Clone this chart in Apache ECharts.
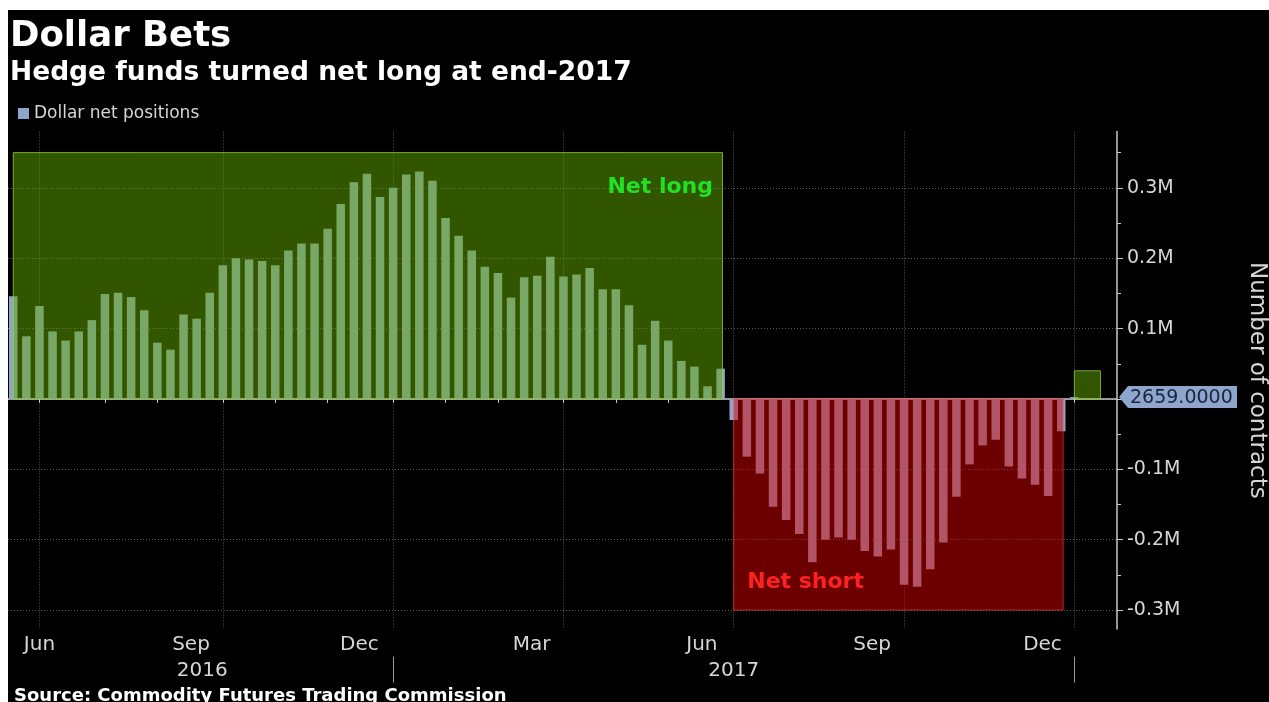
<!DOCTYPE html>
<html>
<head>
<meta charset="utf-8">
<title>Dollar Bets</title>
<script src="https://cdn.jsdelivr.net/npm/echarts@6/dist/echarts.min.js"></script>
<style>
  html, body { margin: 0; padding: 0; background: #ffffff; }
  #chart { position: absolute; left: 8px; top: 10px; width: 1261px; height: 692px; background: #000; }
</style>
</head>
<body>
<div id="chart"></div>
<script>
// Weekly CFTC dollar net positions (contracts), first report 2016-06-14
const firstReport = '2016-06-14';
const netPositions = [
  146000, 89000, 132000, 96000, 83000, 96000, 112000, 149000, 151000, 145000,
  126000, 80000, 70000, 120000, 114000, 151000, 190000, 200000, 198000, 196000,
  190000, 211000, 221000, 221000, 242000, 277000, 308000, 320000, 287000, 300000,
  319000, 323000, 310000, 257000, 232000, 211000, 188000, 179000, 144000, 173000,
  175000, 202000, 174000, 177000, 186000, 156000, 156000, 133000, 77000, 111000,
  83000, 54000, 46000, 18000, 43000, -30000, -82000, -106000, -153000, -172000,
  -192000, -232000, -200000, -197000, -200000, -216000, -224000, -214000, -264000, -267000,
  -242000, -204000, -139000, -93000, -66000, -58000, -96000, -113000, -122000, -138000,
  -46000, 2659
];

// x-axis ticks: report week closest to each month start
const monthTicks = [
  '2016-06-28', '2016-08-02', '2016-08-30', '2016-10-04', '2016-11-01', '2016-11-29',
  '2017-01-03', '2017-01-31', '2017-02-28', '2017-04-04', '2017-05-02', '2017-05-30',
  '2017-07-04', '2017-08-01', '2017-08-29', '2017-10-03', '2017-10-31', '2017-11-28',
  '2018-01-02'
];
const quarterTicks = ['2016-06-28', '2016-10-04', '2017-01-03', '2017-04-04', '2017-07-04', '2017-10-03', '2018-01-02'];
const monthLabels = ['Jun', 'Sep', 'Dec', 'Mar', 'Jun', 'Sep', 'Dec'];
const monthLabelDates = ['2016-06-28', '2016-09-17', '2016-12-16', '2017-03-18', '2017-06-17', '2017-09-16', '2017-12-16'];
const yearLabels = ['2016', '2017'];
const yearLabelDates = ['2016-09-23', '2017-07-04'];
const yearBreaks = ['2017-01-03', '2018-01-02'];

// y-axis ticks
const yLabelValues = [-300000, -200000, -100000, 100000, 200000, 300000];
const yGridValues = [-300000, -200000, -100000, 0, 100000, 200000, 300000];
const yMinorValues = [-250000, -150000, -50000, 50000, 150000, 250000, 350000];

// shaded regimes
const zones = [
  { kind: 'long', label: 'Net long', from: '2016-06-14', to: '2017-06-28', low: 0, high: 350000 },
  { kind: 'short', label: 'Net short', from: '2017-07-04', to: '2017-12-27', low: -300000, high: 0 },
  { kind: 'long', label: '', from: '2018-01-02', to: '2018-01-16', low: 0, high: 40000 }
];

const DAY = 86400000;
const toTime = s => { const p = s.split('-').map(Number); return Date.UTC(p[0], p[1] - 1, p[2]); };
const start = toTime(firstReport);
const weekDates = netPositions.map((_, i) => start + i * 7 * DAY);
const xMin = weekDates[0] - 2.8 * DAY;
const xMax = weekDates[weekDates.length - 1] + 22.8 * DAY;

const FONT = '"DejaVu Sans", sans-serif';
const BAR = '#8ea6cc';
const GRID_LINE = { color: '#5a5a5a', type: [1, 2], width: 1 };
const AXIS_GREY = '#c8c8c8';
const TEXT_GREY = '#d6d6d6';

const monthLabelMap = new Map(monthLabelDates.map((d, i) => [toTime(d), monthLabels[i]]));
const yearLabelMap = new Map(yearLabelDates.map((d, i) => [toTime(d), yearLabels[i]]));

const zoneStyle = {
  long: { fill: 'rgba(100,170,0,0.5)', border: 'rgba(150,210,70,0.75)', text: '#22e022' },
  short: { fill: 'rgba(215,0,0,0.5)', border: 'rgba(255,70,70,0.6)', text: '#ff2020' }
};

// date axes share one extent (timestamps on a linear scale)
const dateAxis = extra => Object.assign({
  type: 'value', min: xMin, max: xMax, position: 'bottom', scale: true,
  axisLine: { show: false }, axisTick: { show: false }, axisLabel: { show: false }, splitLine: { show: false }
}, extra);

const chart = echarts.init(document.getElementById('chart'), null, { renderer: 'canvas' });

chart.setOption({
  backgroundColor: '#000',
  animation: false,
  title: [
    {
      text: 'Dollar Bets',
      subtext: 'Hedge funds turned net long at end-2017',
      left: 2, top: 9, padding: 0, itemGap: 5,
      textStyle: { color: '#fff', fontSize: 35.5, fontWeight: 'bold', fontFamily: FONT, lineHeight: 35 },
      subtextStyle: { color: '#fff', fontSize: 26.5, fontWeight: 'bold', fontFamily: FONT, lineHeight: 26 }
    },
    {
      text: 'Source: Commodity Futures Trading Commission',
      left: 6, top: 677, padding: 0,
      textStyle: { color: '#fff', fontSize: 18, fontWeight: 'bold', fontFamily: FONT }
    }
  ],
  legend: {
    data: ['Dollar net positions'],
    left: 10, top: 95, padding: 0,
    icon: 'rect', itemWidth: 11, itemHeight: 11,
    selectedMode: false,
    textStyle: { color: TEXT_GREY, fontSize: 17, fontFamily: FONT }
  },
  grid: { left: 0, right: 152, top: 121.5, bottom: 72.9, outerBoundsMode: 'none', containLabel: false },
  xAxis: [
    dateAxis({
      axisLine: { show: true, lineStyle: { color: AXIS_GREY, width: 1.5 } },
      axisTick: { show: true, length: 4, lineStyle: { color: AXIS_GREY }, customValues: monthTicks.map(toTime) },
      axisLabel: {
        show: true, margin: 6, color: TEXT_GREY, fontSize: 20, fontFamily: FONT,
        customValues: monthLabelDates.map(toTime),
        formatter: v => monthLabelMap.get(v) || ''
      }
    }),
    dateAxis({
      axisTick: { show: false, customValues: quarterTicks.map(toTime) },
      splitLine: { show: true, lineStyle: GRID_LINE }
    }),
    dateAxis({
      offset: 27.5,
      axisTick: { show: true, length: 26, lineStyle: { color: '#9a9a9a' }, customValues: yearBreaks.map(toTime) },
      axisLabel: {
        show: true, margin: 4, color: TEXT_GREY, fontSize: 20, fontFamily: FONT,
        customValues: yearLabelDates.map(toTime),
        formatter: v => yearLabelMap.get(v) || ''
      }
    })
  ],
  yAxis: [
    {
      type: 'value', position: 'right', min: -327000, max: 380000,
      name: 'Number of contracts', nameLocation: 'middle', nameRotate: -90, nameGap: 128,
      nameTextStyle: { color: TEXT_GREY, fontSize: 23, fontFamily: FONT },
      axisLine: { show: true, lineStyle: { color: AXIS_GREY, width: 1.5 } },
      axisTick: { show: true, length: 6, lineStyle: { color: AXIS_GREY }, customValues: yGridValues },
      axisLabel: {
        show: true, margin: 10, color: TEXT_GREY, fontSize: 19, fontFamily: FONT,
        customValues: yLabelValues,
        formatter: v => (v / 1e6).toFixed(1) + 'M'
      },
      splitLine: { show: true, lineStyle: GRID_LINE }
    },
    {
      type: 'value', position: 'right', min: -327000, max: 380000,
      axisLine: { show: false },
      axisTick: { show: true, length: 4, lineStyle: { color: AXIS_GREY }, customValues: yMinorValues },
      axisLabel: { show: false },
      splitLine: { show: false }
    }
  ],
  series: [
    {
      name: 'Dollar net positions',
      type: 'bar',
      xAxisIndex: 0, yAxisIndex: 0,
      barWidth: 8.5,
      itemStyle: { color: BAR },
      data: weekDates.map((d, i) => [d, netPositions[i]]),
      markArea: {
        silent: true,
        z: 3,
        data: zones.map(z => {
          const st = zoneStyle[z.kind];
          const isLong = z.kind === 'long';
          return [
            {
              xAxis: toTime(z.from), yAxis: z.high,
              itemStyle: { color: st.fill, borderColor: st.border, borderWidth: 1 },
              label: {
                show: z.label !== '',
                formatter: z.label,
                position: isLong ? 'insideTopRight' : 'insideBottomLeft',
                distance: 0,
                offset: isLong ? [-10, 24] : [14, -17],
                color: st.text, fontSize: 22, fontWeight: 'bold', fontFamily: FONT
              }
            },
            { xAxis: toTime(z.to), yAxis: z.low }
          ];
        })
      }
    },
    {
      // latest-value tag on the value axis
      name: 'latest',
      type: 'custom',
      xAxisIndex: 0, yAxisIndex: 0,
      z: 6,
      silent: true,
      data: [[weekDates[weekDates.length - 1], netPositions[netPositions.length - 1]]],
      renderItem: (params, api) => {
        const pt = api.coord([api.value(0), api.value(1)]);
        const xr = params.coordSys.x + params.coordSys.width;
        const y = pt[1];
        const h = 11;
        return {
          type: 'group',
          children: [
            {
              type: 'polygon',
              shape: { points: [[xr + 2, y], [xr + 11, y - h], [xr + 120, y - h], [xr + 120, y + h], [xr + 11, y + h]] },
              style: { fill: BAR }
            },
            {
              type: 'text',
              style: {
                text: api.value(1).toFixed(4),
                x: xr + 13, y: y + 1,
                align: 'left', verticalAlign: 'middle',
                fill: '#1a2540',
                font: '19px "DejaVu Sans", sans-serif'
              }
            }
          ]
        };
      }
    }
  ]
});
</script>
</body>
</html>
